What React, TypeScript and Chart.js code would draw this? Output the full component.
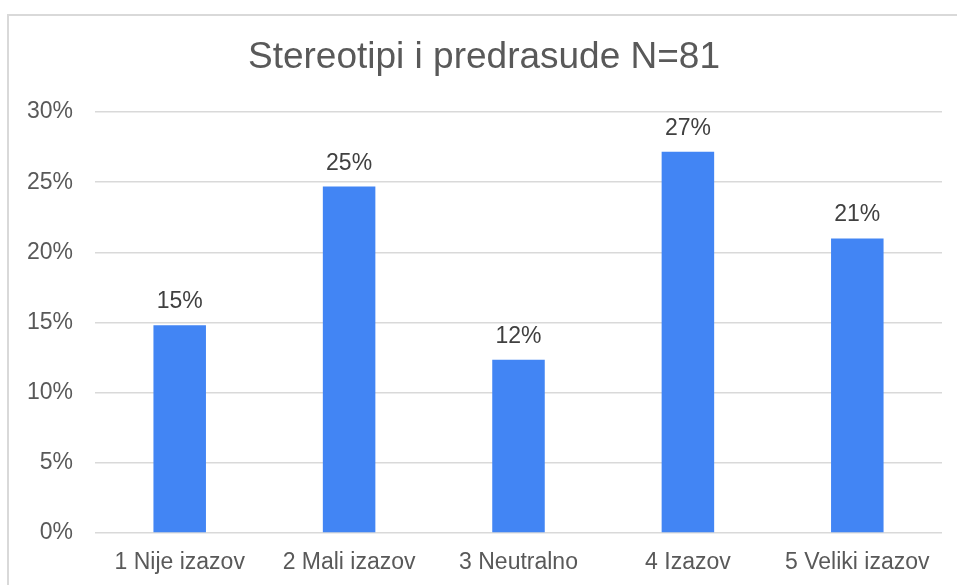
import React, { useEffect, useRef } from "react";
import { Chart, registerables } from "chart.js";

Chart.register(...registerables);

const categories = ["1 Nije izazov", "2 Mali izazov", "3 Neutralno", "4 Izazov", "5 Veliki izazov"];
const percentages = [14.81, 24.69, 12.35, 27.16, 20.99];
const valueLabels = ["15%", "25%", "12%", "27%", "21%"];
const titleText = "Stereotipi i predrasude N=81";
const yMin = 0;
const yMax = 30;
const yStep = 5;

const FONT = "'Liberation Sans', Arial, sans-serif";

const dataLabelPlugin = {
  id: "dataLabels",
  afterDatasetsDraw(chart: any) {
    const ctx = chart.ctx;
    const meta = chart.getDatasetMeta(0);
    ctx.save();
    ctx.font = `23px ${FONT}`;
    ctx.fillStyle = "#404040";
    ctx.textAlign = "center";
    ctx.textBaseline = "alphabetic";
    meta.data.forEach((el: any, i: number) => {
      ctx.fillText(valueLabels[i], el.x, el.y - 17);
    });
    ctx.restore();
  },
};

export default function App() {
  const ref = useRef<HTMLCanvasElement | null>(null);

  useEffect(() => {
    if (!ref.current) return;
    const chart = new Chart(ref.current, {
      type: "bar",
      data: {
        labels: categories,
        datasets: [
          {
            data: percentages,
            backgroundColor: "#4285F4",
            borderWidth: 0,
            categoryPercentage: 1,
            barPercentage: 0.31,
          },
        ],
      },
      options: {
        responsive: false,
        animation: false,
        events: [],
        layout: { padding: { left: 26, right: 15, top: 0, bottom: 0 } },
        plugins: {
          legend: { display: false },
          tooltip: { enabled: false },
          title: {
            display: true,
            text: titleText,
            color: "#595959",
            font: { family: FONT, size: 37, weight: "normal" },
            padding: { top: 36, bottom: 31.6 },
          },
        },
        scales: {
          x: {
            grid: { display: false, drawTicks: false },
            border: { display: false },
            ticks: {
              color: "#595959",
              font: { family: FONT, size: 23 },
              padding: 16,
              maxRotation: 0,
              autoSkip: false,
            },
            afterFit: (axis: any) => {
              axis.height = 52;
            },
          },
          y: {
            min: yMin,
            max: yMax,
            grid: { color: "#d9d9d9", lineWidth: 1.5, drawTicks: false },
            border: { display: false },
            ticks: {
              stepSize: yStep,
              color: "#595959",
              font: { family: FONT, size: 23 },
              padding: 22,
              callback: (v: any) => `${v}%`,
            },
            afterFit: (axis: any) => {
              axis.width = 69;
            },
          },
        },
      },
      plugins: [dataLabelPlugin],
    });
    return () => chart.destroy();
  }, []);

  return (
    <div
      style={{
        position: "fixed",
        left: 0,
        top: 0,
        width: 957,
        height: 585,
        background: "#ffffff",
        overflow: "hidden",
      }}
    >
      <div
        style={{
          position: "absolute",
          left: 7,
          top: 14,
          width: 1000,
          height: 700,
          border: "2px solid #d9d9d9",
          boxSizing: "border-box",
        }}
      />
      <canvas
        ref={ref}
        width={957}
        height={585}
        style={{ position: "absolute", left: 0, top: 0, width: 957, height: 585 }}
      />
    </div>
  );
}
